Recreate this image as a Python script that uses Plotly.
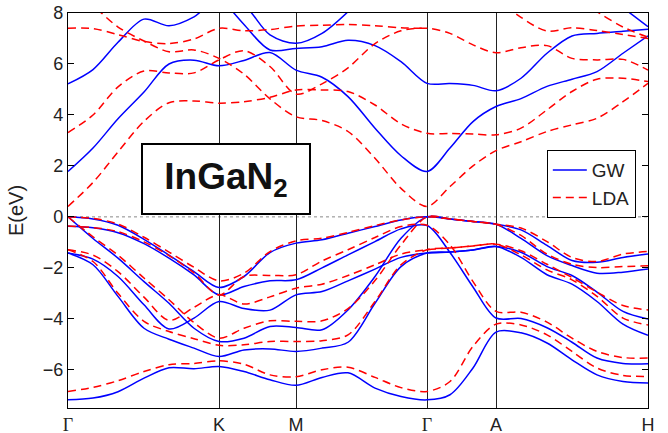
import plotly.graph_objects as go

# k-path coordinate (arbitrary units along Γ-K-M-Γ-A-H)
k_path = [0, 25, 50, 76, 101, 126, 151, 176, 202, 228, 254, 280, 307, 333, 359,
          382, 405, 428, 453, 479, 504, 529, 555, 580]
sym_pos = [0, 151, 228, 359, 428, 580]
sym_labels = ["Γ", "K", "M", "Γ", "A", "H"]
y_ticks = [-6, -4, -2, 0, 2, 4, 6, 8]

# GW bands (eV)
gw_v1 = [0, -0.08, -0.33, -0.88, -1.50, -2.15, -2.77, -2.34, -1.40, -1.03, -0.90, -0.64, -0.38, -0.12, 0,
         -0.08, -0.18, -0.29, -0.51, -1.12, -1.71, -1.78, -1.59, -1.46]
gw_v2 = [-0.37, -0.43, -0.62, -1.05, -1.62, -2.28, -3.06, -2.73, -2.51, -2.47, -2.0, -1.49, -0.97, -0.47, -0.34,
         -1.40, -2.75, -3.97, -3.99, -4.35, -4.92, -5.54, -5.75, -5.76]
gw_v3 = [0, -0.85, -1.62, -2.54, -3.39, -4.37, -4.89, -4.76, -4.30, -4.34, -4.43, -3.65, -2.34, -0.84, 0,
         -0.08, -0.18, -0.29, -0.84, -1.52, -1.91, -2.21, -2.17, -2.05]
gw_v4 = [-1.42, -1.66, -2.34, -3.45, -4.40, -3.97, -3.32, -3.60, -3.66, -3.06, -2.93, -2.51, -2.05, -1.59, -1.42,
         -1.38, -1.30, -1.16, -1.39, -1.95, -2.30, -2.95, -3.71, -4.01]
gw_v5 = [-1.42, -1.88, -3.12, -4.37, -4.80, -5.15, -5.48, -5.22, -5.18, -5.28, -5.15, -4.92, -3.39, -1.95, -1.42,
         -1.38, -1.30, -1.16, -1.59, -2.27, -2.64, -3.32, -4.21, -4.65]
gw_v6 = [-7.18, -7.11, -6.86, -6.33, -5.92, -5.96, -5.87, -6.07, -6.39, -6.61, -6.30, -6.12, -6.72, -7.05, -7.18,
         -6.98, -5.93, -4.52, -4.55, -4.95, -5.61, -6.20, -6.46, -6.52]
gw_c1 = [1.78, 2.70, 3.85, 4.90, 6.00, 6.15, 5.93, 6.14, 6.45, 5.76, 5.48, 4.72, 3.48, 2.40, 1.78,
         2.70, 3.74, 4.33, 4.64, 5.12, 5.40, 5.70, 6.42, 7.10]
gw_c2 = [5.22, 5.78, 6.85, 7.76, 7.50, 7.85, 8.60, 8.30, 7.14, 6.81, 7.20, 8.05, None, None, None,
         None, None, None, None, None, None, None, None, None]
gw_c3 = [None, None, None, None, None, None, 8.70, 7.55, 6.55, 6.61, 6.68, 6.93, 6.72, 6.09, 5.24,
         5.23, 5.16, 4.95, 5.44, 6.42, 7.10, 7.20, 7.28, 7.36]
gw_c4 = [None, None, None, None, None, None, None, None, None, None, None, None, None, None, None,
         None, None, None, None, None, None, 8.90, 8.20, 7.46]

# LDA bands (eV)
lda_v1 = [0, -0.06, -0.28, -0.80, -1.38, -1.98, -2.51, -2.21, -1.36, -0.94, -0.84, -0.61, -0.34, -0.12, 0,
          -0.08, -0.18, -0.29, -0.44, -0.97, -1.59, -1.75, -1.46, -1.36]
lda_v2 = [-0.36, -0.42, -0.58, -0.98, -1.52, -2.20, -3.06, -2.34, -2.30, -2.27, -1.73, -1.29, -0.81, -0.38, -0.33,
          -1.10, -2.54, -3.71, -3.74, -4.13, -4.76, -5.28, -5.52, -5.54]
lda_v3 = [0, -0.78, -1.50, -2.40, -3.25, -4.15, -4.76, -4.37, -4.08, -4.10, -4.08, -3.60, -2.50, -1.10, 0,
          -0.08, -0.18, -0.29, -0.73, -1.46, -1.86, -1.99, -1.95, -1.92]
lda_v4 = [-1.29, -1.50, -2.15, -3.15, -4.06, -3.55, -3.06, -3.42, -3.14, -2.80, -2.64, -2.30, -1.88, -1.46, -1.29,
          -1.22, -1.14, -1.07, -1.33, -1.86, -2.38, -2.95, -3.48, -3.65]
lda_v5 = [-1.29, -1.75, -3.00, -4.10, -4.50, -4.78, -5.04, -5.02, -4.89, -4.89, -4.86, -4.63, -3.32, -1.88, -1.29,
          -1.22, -1.14, -1.07, -1.49, -2.08, -2.47, -3.12, -3.97, -4.24]
lda_v6 = [-6.85, -6.69, -6.43, -6.07, -5.80, -5.75, -5.65, -5.78, -6.20, -6.27, -6.00, -5.90, -6.30, -6.70, -6.85,
          -6.46, -5.08, -4.21, -4.24, -4.63, -5.28, -5.93, -6.22, -6.26]
lda_c1 = [0.41, 1.35, 2.55, 3.75, 4.48, 4.55, 4.46, 4.52, 4.69, 4.98, 4.98, 4.92, 4.39, 3.65, 3.28,
          3.27, 3.25, 3.22, 3.48, 4.20, 4.92, 5.40, 5.44, 5.31]
lda_c2 = [3.31, 4.00, 5.10, 5.72, 5.65, 5.65, 6.16, 6.52, 5.90, 4.82, 5.22, 5.85, 6.80, 7.30, 7.40,
          7.20, 6.75, 6.44, 6.64, 6.72, 6.22, 6.16, 6.18, 5.76]
lda_c3 = [9.20, 8.30, 7.45, 6.90, 6.48, 6.55, 6.22, 5.60, 4.63, 3.93, 3.78, 3.35, 2.30, 1.12, 0.41,
          1.19, 2.00, 2.60, 2.95, 3.35, 3.61, 3.87, 4.52, 5.24]
lda_c4 = [7.40, 7.39, 7.15, 6.88, 6.80, 6.98, 7.40, 7.30, 7.35, 7.49, 7.52, 7.55, 7.50, 7.42, 7.40,
          None, None, None, None, None, None, None, None, None]
lda_c5 = [None, None, None, None, None, None, None, None, None, None, None, None, None, None, None,
          None, None, 8.60, 7.83, 7.29, 7.42, 7.31, 7.16, 7.00]
lda_c6 = [None, None, None, None, None, None, None, None, None, None, None, None, None, None, None,
          None, None, None, None, None, 8.70, 8.05, 7.45, 7.05]

gw_bands = [gw_v1, gw_v2, gw_v3, gw_v4, gw_v5, gw_v6, gw_c1, gw_c2, gw_c3, gw_c4]
lda_bands = [lda_v1, lda_v2, lda_v3, lda_v4, lda_v5, lda_v6, lda_c1, lda_c2, lda_c3, lda_c4, lda_c5, lda_c6]

fig = go.Figure()
for i, band in enumerate(gw_bands):
    fig.add_trace(go.Scatter(x=k_path, y=band, mode="lines", name="GW", legendgroup="GW",
                             showlegend=(i == 0),
                             line=dict(color="#0000FF", width=1.5, shape="spline", smoothing=0.9)))
for i, band in enumerate(lda_bands):
    fig.add_trace(go.Scatter(x=k_path, y=band, mode="lines", name="LDA", legendgroup="LDA",
                             showlegend=(i == 0),
                             line=dict(color="#FF0000", width=1.5, dash="8px,5px", shape="spline", smoothing=0.9)))

font_main = "Liberation Sans, Arial, Helvetica, sans-serif"
tick_text = [f"<span style='font-family:Liberation Serif'>{s}</span>" if s == "Γ" else s for s in sym_labels]

fig.update_layout(
    width=668, height=433,
    margin=dict(l=68, r=20, t=13, b=25),
    paper_bgcolor="white", plot_bgcolor="white",
    font=dict(family=font_main, size=18, color="#222"),
    showlegend=True,
    legend=dict(x=0.979, xanchor="right", y=0.653, yanchor="top",
                bordercolor="black", borderwidth=1, bgcolor="white",
                font=dict(size=19), tracegroupgap=0, itemwidth=34),
    xaxis=dict(range=[0, 580], tickmode="array", tickvals=sym_pos, ticktext=tick_text,
               showgrid=True, gridcolor="#222", gridwidth=1, zeroline=False,
               showline=True, linecolor="black", linewidth=1.2, mirror=True,
               ticks="", automargin=False, tickfont=dict(size=18)),
    yaxis=dict(range=[-7.5, 8], tickmode="array", tickvals=y_ticks,
               showgrid=False, zeroline=False,
               showline=True, linecolor="black", linewidth=1.2, mirror="ticks",
               ticks="inside", ticklen=6, tickcolor="black",
               ticklabeloverflow="allow",
               title=dict(text="E(eV)", standoff=13, font=dict(size=20)),
               automargin=False),
    shapes=[dict(type="line", xref="paper", x0=0, x1=1, yref="y", y0=0, y1=0,
                 line=dict(color="#888", width=1, dash="dot"), layer="below")],
    annotations=[dict(xref="paper", yref="paper", x=0.2724, y=0.580,
                      xanchor="center", yanchor="middle",
                      text="<b>InGaN<sub>2</sub></b>", showarrow=False,
                      font=dict(family=font_main, size=37, color="#111"),
                      bgcolor="white", bordercolor="black", borderwidth=2, borderpad=1,
                      width=164, height=66, align="center", valign="middle")],
)

# remove the browser's default 8px body margin so the figure fills the window exactly
fig.write_html("out.html", config={"displayModeBar": False},
               post_script="document.body.style.margin='0';")
